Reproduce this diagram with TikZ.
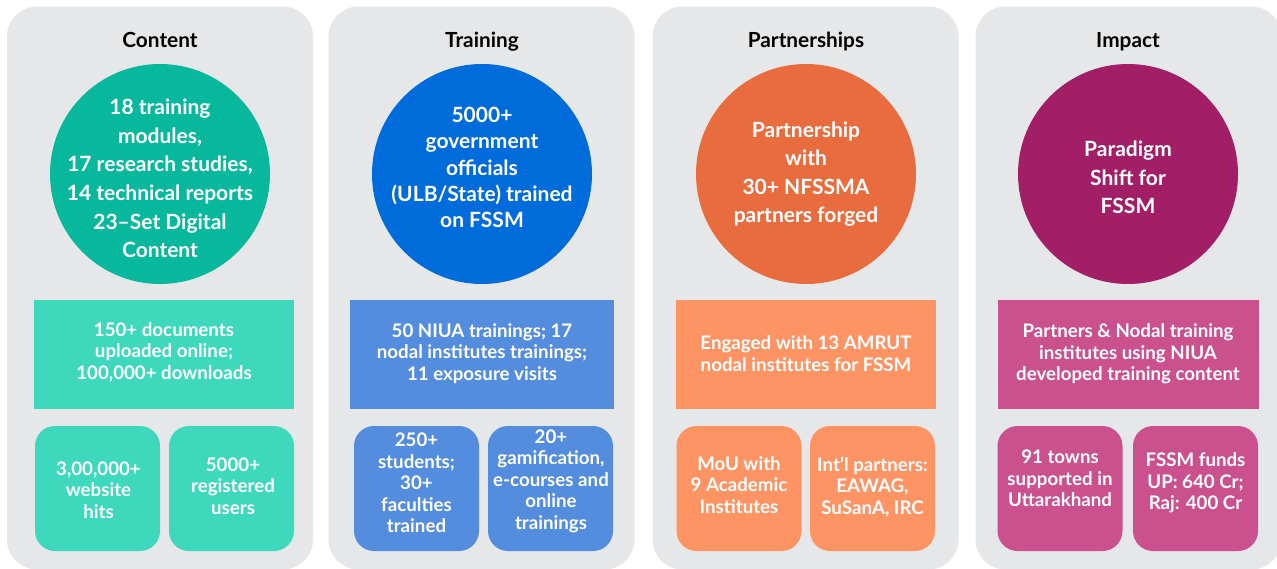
\documentclass[tikz,border=0pt]{standalone}
\usepackage{fontspec}
\setmainfont{Lato}
\definecolor{panelgray}{HTML}{E6E7E9}
\definecolor{cA}{HTML}{08B89D}
\definecolor{cB}{HTML}{3ED8BC}
\definecolor{tA}{HTML}{006BDA}
\definecolor{tB}{HTML}{548DDD}
\definecolor{pA}{HTML}{E96C3E}
\definecolor{pB}{HTML}{FE9464}
\definecolor{iA}{HTML}{A21F67}
\definecolor{iB}{HTML}{CB508E}
\tikzset{
  panel/.style={rectangle, fill=panelgray, rounded corners=30pt, minimum width=306pt, minimum height=563pt, inner sep=0pt},
  ptitle/.style={font=\bfseries\fontsize{20.8}{24}\selectfont, text=black, inner sep=0pt, anchor=base},
  bigdisc/.style={circle, minimum size=220pt, inner sep=0pt},
  ctext/.style={text=white, font=\bfseries\fontsize{21}{28.6}\selectfont, align=center, inner sep=0pt},
  midbox/.style={rectangle, minimum height=109pt, inner sep=0pt},
  smallbox/.style={rectangle, rounded corners=20pt, minimum width=125pt, minimum height=125pt, inner sep=0pt},
  btext/.style={text=white, font=\bfseries\fontsize{18.7}{21.5}\selectfont, align=center, inner sep=0pt}
}
\begin{document}
\begin{tikzpicture}[x=1pt,y=-1pt]
\useasboundingbox (0,0) rectangle (1277,568);
\clip (0,0) rectangle (1277,568);
\fill[white] (0,0) rectangle (1277,568);
% panels
\node[panel] (p1) at (160,288) {};
\node[panel] (p2) at (481.5,288) {};
\node[panel] (p3) at (805.5,288) {};
\node[panel] (p4) at (1128.5,288) {};
% titles
\node[ptitle] (t1) at (160,47.5) {Content};
\node[ptitle] (t2) at (482,47.5) {Training};
\node[ptitle] (t3) at (806,47.5) {Partnerships};
\node[ptitle] (t4) at (1128,47.5) {Impact};
% circles
\node[bigdisc, fill=cA] (c1) at (160,174) {};
\node[bigdisc, fill=tA] (c2) at (482,174) {};
\node[bigdisc, fill=pA] (c3) at (806,174) {};
\node[bigdisc, fill=iA] (c4) at (1128,174) {};
\node[ctext] (c1t) at (160,178.5) {18 training\\modules,\\17 research studies,\\14 technical reports\\23–Set Digital\\Content};
\node[ctext, font=\bfseries\fontsize{21}{26.3}\selectfont] (c2t) at (482,167.5) {5000+\\government\\officials\\(ULB/State) trained\\on FSSM};
\node[ctext] (c3t) at (806,174) {Partnership\\with\\30+ NFSSMA\\partners forged};
\node[ctext] (c4t) at (1128,177.5) {Paradigm\\Shift for\\FSSM};
% middle boxes
\node[midbox, fill=cB, minimum width=260pt] (m1) at (164,354.5) {};
\node[midbox, fill=tB, minimum width=264pt] (m2) at (482,354.5) {};
\node[midbox, fill=pB, minimum width=260pt] (m3) at (806,354.5) {};
\node[midbox, fill=iB, minimum width=261pt] (m4) at (1128.5,354.5) {};
\node[btext] (m1t) at (164,352) {150+ documents\\uploaded online;\\100,000+ downloads};
\node[btext] (m2t) at (482,353.5) {50 NIUA trainings; 17\\nodal institutes trainings;\\11 exposure visits};
\node[btext] (m3t) at (806,353.5) {Engaged with 13 AMRUT\\nodal institutes for FSSM};
\node[btext] (m4t) at (1128,354) {Partners \& Nodal training\\institutes using NIUA\\developed training content};
% small boxes
\node[smallbox, fill=cB] (s1a) at (97.5,488.5) {};
\node[smallbox, fill=cB] (s1b) at (231.5,488.5) {};
\node[smallbox, fill=tB] (s2a) at (416.5,488.5) {};
\node[smallbox, fill=tB] (s2b) at (550.5,488.5) {};
\node[smallbox, fill=pB] (s3a) at (739,488.5) {};
\node[smallbox, fill=pB] (s3b) at (872.5,488.5) {};
\node[smallbox, fill=iB] (s4a) at (1060,488.5) {};
\node[smallbox, fill=iB] (s4b) at (1195.5,488.5) {};
\node[btext] (s1at) at (98.5,490) {3,00,000+\\website\\hits};
\node[btext] (s1bt) at (233,486) {5000+\\registered\\users};
\node[btext] (s2at) at (416.5,483) {250+\\students;\\30+\\faculties\\trained};
\node[btext] (s2bt) at (551,481) {20+\\gamification,\\e-courses and\\online\\trainings};
\node[btext] (s3at) at (739,485) {MoU with\\9 Academic\\Institutes};
\node[btext] (s3bt) at (872.5,487) {Int’l partners:\\EAWAG,\\SuSanA, IRC};
\node[btext] (s4at) at (1060,478.5) {91 towns\\supported in\\Uttarakhand};
\node[btext] (s4bt) at (1195.5,483) {FSSM funds\\UP: 640 Cr;\\Raj: 400 Cr};
\end{tikzpicture}
\end{document}
